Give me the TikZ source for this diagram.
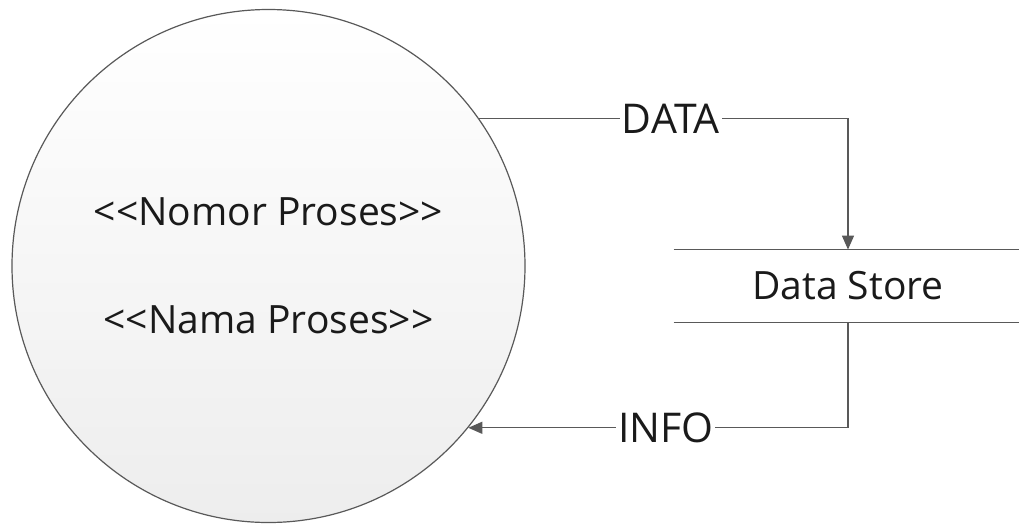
\documentclass[tikz,border=0pt]{standalone}
\usepackage{fontspec}
\newfontfamily\dfdfont{Open Sans}
\usepackage{tikz}
\usetikzlibrary{arrows.meta,shapes,positioning}

\definecolor{linegray}{HTML}{595959}
\definecolor{inkgray}{HTML}{1A1A1A}

\tikzset{
  proses/.style={draw=linegray, line width=0.6pt, circle, minimum size=256.5pt,
    top color=white, bottom color=black!7, text=inkgray, align=center,
    font=\dfdfont\fontsize{19.5}{54}\selectfont},
  store/.style={minimum width=174pt, minimum height=36pt, text=inkgray,
    font=\dfdfont\fontsize{19.5}{22}\selectfont,
    append after command={
      \pgfextra{\draw[linegray, line width=0.6pt]
        (\tikzlastnode.north west) -- (\tikzlastnode.north east)
        (\tikzlastnode.south west) -- (\tikzlastnode.south east);}}},
  flow/.style={draw=linegray, line width=0.6pt,
    -{Triangle[length=7pt,width=6pt]}},
  flowlabel/.style={fill=white, inner sep=1pt, text=inkgray,
    font=\dfdfont\fontsize{20.5}{24}\selectfont}
}

\begin{document}
\begin{tikzpicture}[x=0.5pt, y=-0.5pt]
        \useasboundingbox (0,0) rectangle (1019,526);

        \node[proses] (P1) at (268.5,266) {<{}<Nomor Proses>{}>\\<{}<Nama Proses>{}>};
        \node[store] (DS) at (848,286) {Data Store};

        \draw[flow] (P1.35.2)  -| node[flowlabel, pos=0.26]{DATA} (DS.north);
        \draw[flow] (DS.south) |- node[flowlabel, pos=0.74]{INFO} (P1.-39.2);
    \end{tikzpicture}
\end{document}
